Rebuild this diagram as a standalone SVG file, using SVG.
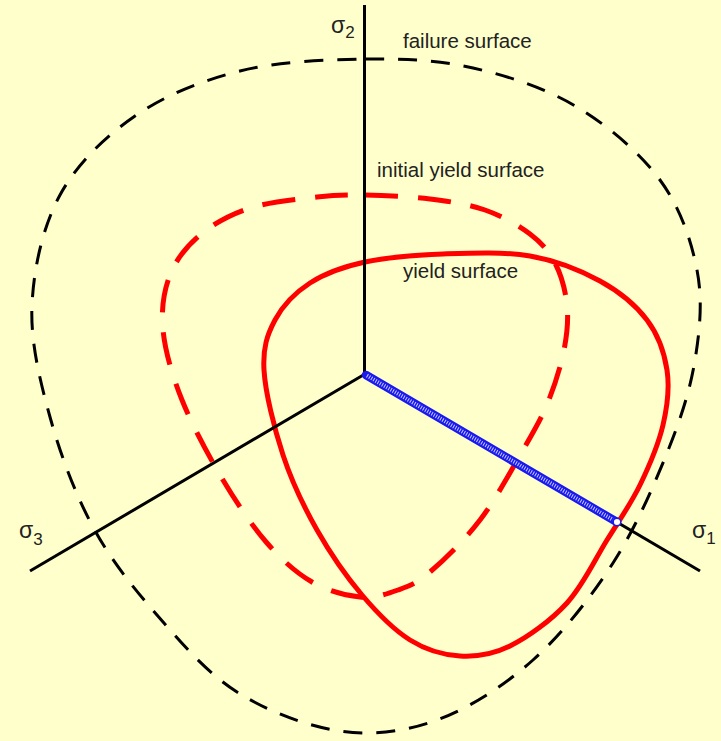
<svg xmlns="http://www.w3.org/2000/svg" width="721" height="741" viewBox="0 0 721 741">
<style>
.lbl{font-family:"Liberation Sans",Arial,sans-serif;font-size:20.5px;fill:#222}
.sig{font-family:"Liberation Sans",Arial,sans-serif;font-size:23px;fill:#222}
.sub{font-size:17px}
.axis{stroke:#000;stroke-width:3;fill:none;stroke-linecap:butt}
.fail{stroke:#000;stroke-width:3;fill:none;stroke-dasharray:19 14}
.init{stroke:#ff0000;stroke-width:5;fill:none;stroke-dasharray:33 20}
.yield{stroke:#ff0000;stroke-width:5;fill:none}
</style>
<rect x="0" y="0" width="721" height="741" fill="#ffffcc"/>

<g id="failure-surface">
<path class="fail" d="M365,59 C403.8,58.5 437.7,60 473,68 C508.3,76 545.8,88.3 577,107 C608.2,125.7 640,152.8 660,180 C680,207.2 691.2,240 697,270 C702.8,300 700,329.5 695,360 C690,390.5 680.7,419.2 667,453 C653.3,486.8 635.3,528.5 613,563 C590.7,597.5 562.3,633.8 533,660 C503.7,686.2 469.2,708.2 437,720 C404.8,731.8 373.3,735.7 340,731 C306.7,726.3 267.5,711.3 237,692 C206.5,672.7 181,642.5 157,615 C133,587.5 110.8,560 93,527 C75.2,494 60.2,454 50,417 C39.8,380 30.3,342 32,305 C33.7,268 42.8,226.5 60,195 C77.2,163.5 105,136.7 135,116 C165,95.3 201.7,80.5 240,71 C278.3,61.5 326.2,59.5 365,59 Z"/>
</g>

<g id="initial-yield-surface">
<path class="init" d="M365,195 C383.8,195.3 410,196.5 430,199 C450,201.5 468.3,204.2 485,210 C501.7,215.8 518.3,225.2 530,234 C541.7,242.8 548.8,251.2 555,263 C561.2,274.8 565.5,290.5 567,305 C568.5,319.5 567.2,333.8 564,350 C560.8,366.2 554.8,385.3 548,402 C541.2,418.7 534.3,430.3 523,450 C511.7,469.7 495.5,499.7 480,520 C464.5,540.3 443.7,560.3 430,572 C416.3,583.7 409.7,585.8 398,590 C386.3,594.2 374.3,598.3 360,597 C345.7,595.7 327.5,591 312,582 C296.5,573 281.8,560 267,543 C252.2,526 237.2,503.8 223,480 C208.8,456.2 192,425 182,400 C172,375 165,350.8 163,330 C161,309.2 163.8,290.8 170,275 C176.2,259.2 186.7,246.2 200,235 C213.3,223.8 230.5,214.3 250,208 C269.5,201.7 297.8,199.2 317,197 C336.2,194.8 346.2,194.7 365,195 Z"/>
</g>

<g id="yield-surface">
<path class="yield" d="M365,262 C387.2,257.2 415.5,255 443,254 C470.5,253 503.8,251.5 530,256 C556.2,260.5 580.5,270.3 600,281 C619.5,291.7 635.8,305.2 647,320 C658.2,334.8 664.3,352.5 667,370 C669.7,387.5 667.5,405.8 663,425 C658.5,444.2 649.3,465.8 640,485 C630.7,504.2 619.2,520.3 607,540 C594.8,559.7 583.2,585.3 567,603 C550.8,620.7 527.8,637.2 510,646 C492.2,654.8 476.7,657 460,656 C443.3,655 426.3,650.2 410,640 C393.7,629.8 377.5,613.3 362,595 C346.5,576.7 330.2,553.3 317,530 C303.8,506.7 291.8,481.7 283,455 C274.2,428.3 265.3,392.5 264,370 C262.7,347.5 267.3,334.5 275,320 C282.7,305.5 295,292.7 310,283 C325,273.3 342.8,266.8 365,262 Z"/>
</g>

<g id="axes">
<line class="axis" x1="364.5" y1="5" x2="364.5" y2="374"/>
<line class="axis" x1="365" y1="374" x2="700" y2="571"/>
<line class="axis" x1="365" y1="374" x2="30" y2="571"/>
</g>

<g id="stress-path">
<line x1="366" y1="375" x2="616" y2="521.5" stroke="#1a1aee" stroke-width="8.5" stroke-linecap="round"/>
<line x1="367" y1="375.6" x2="613" y2="519.8" stroke="#c8c8ff" stroke-width="4" stroke-dasharray="1 1.5"/>
<circle cx="617" cy="522" r="3.8" fill="#ffffff" stroke="#1a1aee" stroke-width="1.5"/>
</g>

<g id="labels">
<text class="sig" x="331" y="33">σ<tspan class="sub" dy="5">2</tspan></text>
<text class="sig" x="692" y="538">σ<tspan class="sub" dy="6">1</tspan></text>
<text class="sig" x="19" y="538">σ<tspan class="sub" dy="7">3</tspan></text>
<text class="lbl" x="403" y="48">failure surface</text>
<text class="lbl" x="377" y="177">initial yield surface</text>
<text class="lbl" x="403" y="278">yield surface</text>
</g>
</svg>
